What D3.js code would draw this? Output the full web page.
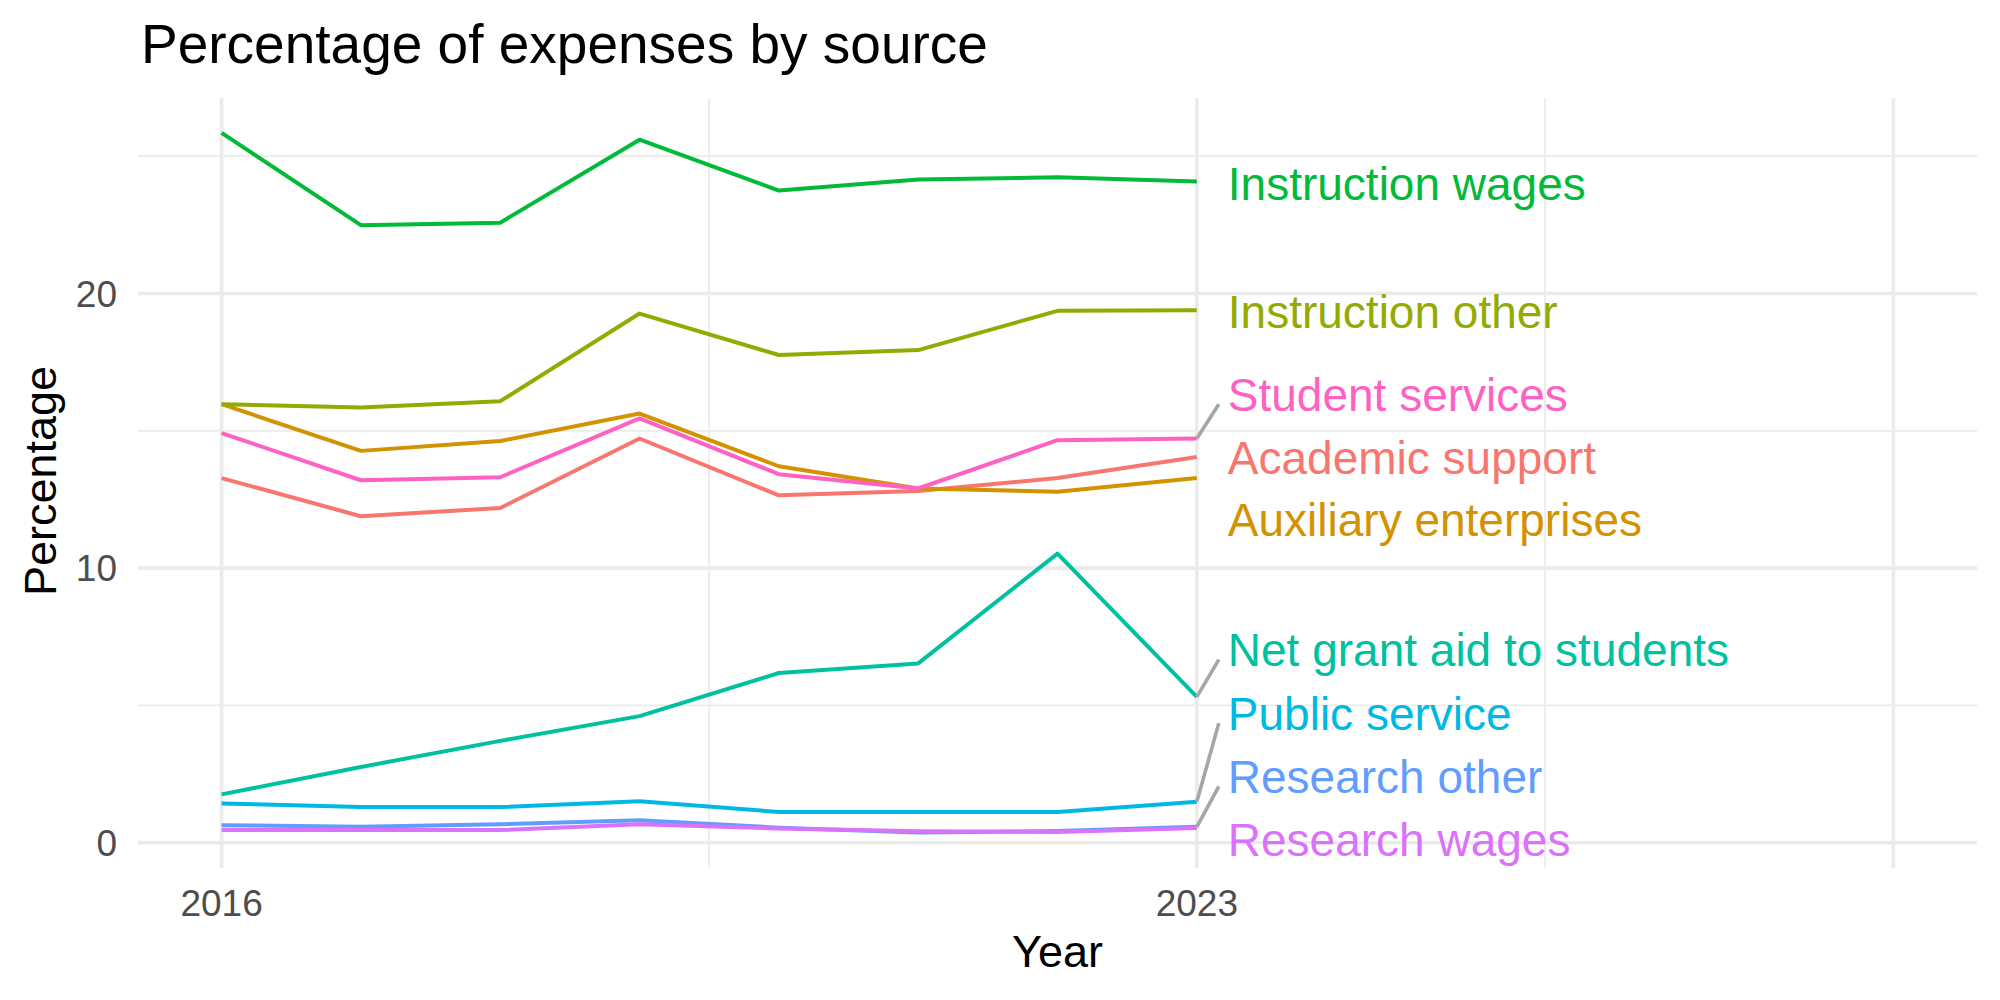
<!DOCTYPE html>
<html>
<head>
<meta charset="utf-8">
<script src="https://cdn.jsdelivr.net/npm/d3@7"></script>
<style>
    body { margin: 0; background: #ffffff; }
    text { font-family: "Liberation Sans", Arial, Helvetica, sans-serif; }
</style>
</head>
<body>
<div id="chart"></div>
<script>
var years = [2016, 2017, 2018, 2019, 2020, 2021, 2022, 2023];

var series = ["Academic support", "Auxiliary enterprises", "Instruction other", "Instruction wages",
              "Net grant aid to students", "Public service", "Research other", "Research wages", "Student services"];

var academicSupport   = [13.28, 11.89, 12.19, 14.72, 12.65, 12.81, 13.28, 14.05];
var auxiliary         = [15.97, 14.27, 14.63, 15.63, 13.71, 12.90, 12.78, 13.28];
var instructionOther  = [15.97, 15.85, 16.08, 19.27, 17.76, 17.94, 19.37, 19.39];
var instructionWages  = [25.85, 22.49, 22.58, 25.60, 23.75, 24.15, 24.23, 24.08];
var netGrantAid       = [1.76, 2.76, 3.71, 4.61, 6.18, 6.53, 10.53, 5.31];
var publicService     = [1.43, 1.30, 1.30, 1.51, 1.12, 1.12, 1.12, 1.49];
var researchOther     = [0.64, 0.58, 0.67, 0.82, 0.55, 0.37, 0.43, 0.58];
var researchWages     = [0.46, 0.46, 0.46, 0.67, 0.52, 0.42, 0.39, 0.54];
var studentServices   = [14.92, 13.20, 13.31, 15.45, 13.42, 12.90, 14.66, 14.72];

var values = [academicSupport, auxiliary, instructionOther, instructionWages,
              netGrantAid, publicService, researchOther, researchWages, studentServices];

// where the repelled labels ended up (data units) and which ones got a segment
var labelY = [14.04, 11.77, 19.33, 24.02, 7.03, 4.72, 2.42, 0.13, 16.33];
var hasSegment = [false, false, false, false, true, true, true, false, true];

var colors = ["#F8766D", "#D39200", "#93AA00", "#00BA38", "#00C19F", "#00B9E3", "#619CFF", "#DB72FB", "#FF61C3"];

var xTicks = [2016, 2023];
var xMajor = [2016, 2023, 2028];
var xMinor = [2019.5, 2025.5];
var yTicks = [0, 10, 20];
var yMinor = [5, 15, 25];

function drawChart() {
    var w = 2000;
    var h = 1000;
    var left = 138, right = 1977, top = 98, bottom = 868;

    var x = d3.scaleLinear().domain([2015.4, 2028.6]).range([left, right]);
    var y = d3.scaleLinear().domain([-0.92, 27.12]).range([bottom, top]);

    var svg = d3.select("#chart")
                .append("svg")
                .attr("width", w)
                .attr("height", h);

    // grid
    var grid = svg.append("g");
    grid.selectAll("line.ymin").data(yMinor).enter().append("line")
        .attr("x1", left).attr("x2", right)
        .attr("y1", function(d){ return y(d); }).attr("y2", function(d){ return y(d); })
        .attr("stroke", "#EBEBEB").attr("stroke-width", 1.8);
    grid.selectAll("line.xmin").data(xMinor).enter().append("line")
        .attr("y1", top).attr("y2", bottom)
        .attr("x1", function(d){ return x(d); }).attr("x2", function(d){ return x(d); })
        .attr("stroke", "#EBEBEB").attr("stroke-width", 1.8);
    grid.selectAll("line.ymaj").data(yTicks).enter().append("line")
        .attr("x1", left).attr("x2", right)
        .attr("y1", function(d){ return y(d); }).attr("y2", function(d){ return y(d); })
        .attr("stroke", "#EBEBEB").attr("stroke-width", 3.6);
    grid.selectAll("line.xmaj").data(xMajor).enter().append("line")
        .attr("y1", top).attr("y2", bottom)
        .attr("x1", function(d){ return x(d); }).attr("x2", function(d){ return x(d); })
        .attr("stroke", "#EBEBEB").attr("stroke-width", 3.6);

    // axes labels
    svg.selectAll("text.xt").data(xTicks).enter().append("text")
        .attr("x", function(d){ return x(d); })
        .attr("y", 916)
        .attr("text-anchor", "middle")
        .style("font-size", "37px")
        .style("fill", "#4D4D4D")
        .text(function(d){ return d; });

    svg.selectAll("text.yt").data(yTicks).enter().append("text")
        .attr("x", 117)
        .attr("y", function(d){ return y(d); })
        .attr("dy", "0.36em")
        .attr("text-anchor", "end")
        .style("font-size", "37px")
        .style("fill", "#4D4D4D")
        .text(function(d){ return d; });

    svg.append("text")
        .attr("x", (left + right) / 2)
        .attr("y", 967)
        .attr("text-anchor", "middle")
        .style("font-size", "45px")
        .text("Year");

    svg.append("text")
        .attr("transform", "translate(56," + 481 + ") rotate(-90)")
        .attr("text-anchor", "middle")
        .style("font-size", "45px")
        .text("Percentage");

    svg.append("text")
        .attr("x", 141)
        .attr("y", 63)
        .style("font-size", "55px")
        .text("Percentage of expenses by source");

    // lines
    var line = d3.line()
                 .x(function(d, i){ return x(years[i]); })
                 .y(function(d){ return y(d); });

    svg.selectAll("path.series").data(values).enter().append("path")
        .attr("d", function(d){ return line(d); })
        .attr("fill", "none")
        .attr("stroke", function(d, i){ return colors[i]; })
        .attr("stroke-width", 4)
        .attr("stroke-linejoin", "round");

    // label segments
    var lastYear = years[years.length - 1];
    var labelX = x(lastYear) + 31;

    svg.selectAll("line.seg").data(values.filter(function(d, i){ return hasSegment[i]; })).enter().append("line")
        .attr("x1", x(lastYear))
        .attr("y1", function(d){ return y(d[d.length - 1]); })
        .attr("x2", labelX - 9)
        .attr("y2", function(d){ return y(labelY[values.indexOf(d)]) + 10; })
        .attr("stroke", "#A6A6A6")
        .attr("stroke-width", 3.6);

    svg.selectAll("text.lab").data(series).enter().append("text")
        .attr("x", labelX)
        .attr("y", function(d, i){ return y(labelY[i]); })
        .attr("dy", "0.36em")
        .style("font-size", "46px")
        .style("fill", function(d, i){ return colors[i]; })
        .text(function(d){ return d; });
}

window.onload = drawChart;
</script>
</body>
</html>
